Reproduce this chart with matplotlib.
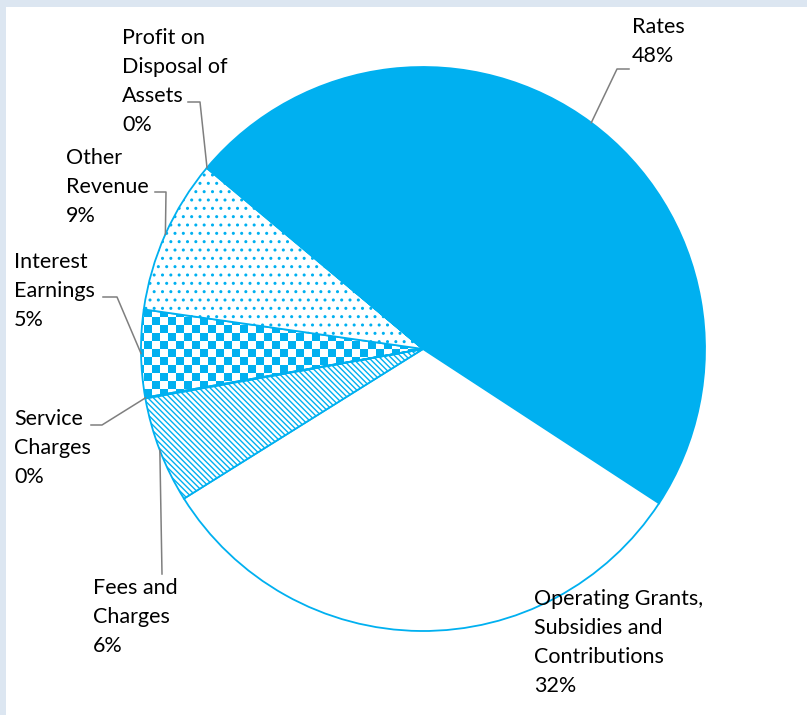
import numpy as np
import matplotlib.pyplot as plt
from matplotlib.colors import ListedColormap
from matplotlib.patches import Rectangle

# revenue split, clockwise from the top left
labels = ['Rates', 'Operating Grants,\nSubsidies and\nContributions',
          'Fees and\nCharges', 'Service\nCharges', 'Interest\nEarnings',
          'Other\nRevenue', 'Profit on\nDisposal of\nAssets']
shares = [48.1, 31.9, 6.1, 0.05, 5.0, 8.85, 0.05]
pct_text = ['48%', '32%', '6%', '0%', '5%', '9%', '0%']

blue = '#00B0F0'
W, H = 807, 715
cx, cy, R = 423, 349, 282   # pie centre and radius in pixels


def px(x, y):
    # pixel (from top left) -> data units of the pie
    return (x - cx) / R, (cy - y) / R


fig = plt.figure(figsize=(W / 100, H / 100), dpi=100, facecolor='#DCE6F1')
fig.add_artist(Rectangle((6 / W, 0), (W - 6) / W, (H - 7) / H,
                         transform=fig.transFigure, facecolor='white',
                         edgecolor='none', zorder=-5))
ax = fig.add_axes([0, 0, 1, 1])
plt.rcParams['hatch.linewidth'] = 1.0

wedges, _ = ax.pie(shares, startangle=139.9, counterclock=False, radius=1,
                   colors=['white'] * len(shares),
                   wedgeprops=dict(edgecolor=blue, linewidth=1.3))
wedges[0].set_facecolor(blue)
wedges[2].set_hatch('\\\\\\\\\\\\')
wedges[5].set_hatch('..')

# checkerboard for interest earnings
cell = 8 / R
nx, ny = 140, 70
checker = np.indices((ny, nx)).sum(axis=0) % 2
x0, y0 = px(136, 349 + ny * 4)
im = ax.imshow(checker, cmap=ListedColormap(['white', blue]),
               extent=(x0, x0 + nx * cell, y0, y0 + ny * cell),
               interpolation='nearest', zorder=0.9)
im.set_clip_path(wedges[4])
wedges[4].set_facecolor('none')

# label text boxes: left x, top y in pixels
text_pos = [(632, 17), (534, 589), (93, 578), (14, 409), (14, 252),
            (66, 148), (122, 28)]
# leader elbows in pixels (None = no leader)
elbows = [[(629, 69), (617, 69)], None, [(162, 574)],
          [(91, 425), (102, 425)], [(103, 297), (117, 297)],
          [(155, 192), (166, 192)], [(188, 102), (200, 102)]]

for i, w in enumerate(wedges):
    tx, ty = px(*text_pos[i])
    ax.text(tx, ty, labels[i] + '\n' + pct_text[i], ha='left', va='top',
            fontsize=15.5, family=['Lato', 'DejaVu Sans'], color='black',
            linespacing=1.56, zorder=5)
    if elbows[i] is None:
        continue
    mid = np.deg2rad((w.theta1 + w.theta2) / 2)
    pts = [px(*p) for p in elbows[i]] + [(np.cos(mid), np.sin(mid))]
    xs, ys = zip(*pts)
    ax.plot(xs, ys, color='#7F7F7F', linewidth=1.1, zorder=4)

ax.set_xlim(-cx / R, (W - cx) / R)
ax.set_ylim((cy - H) / R, cy / R)
ax.set_aspect('auto')
ax.axis('off')

fig.savefig('out.png', dpi=100, facecolor=fig.get_facecolor())
